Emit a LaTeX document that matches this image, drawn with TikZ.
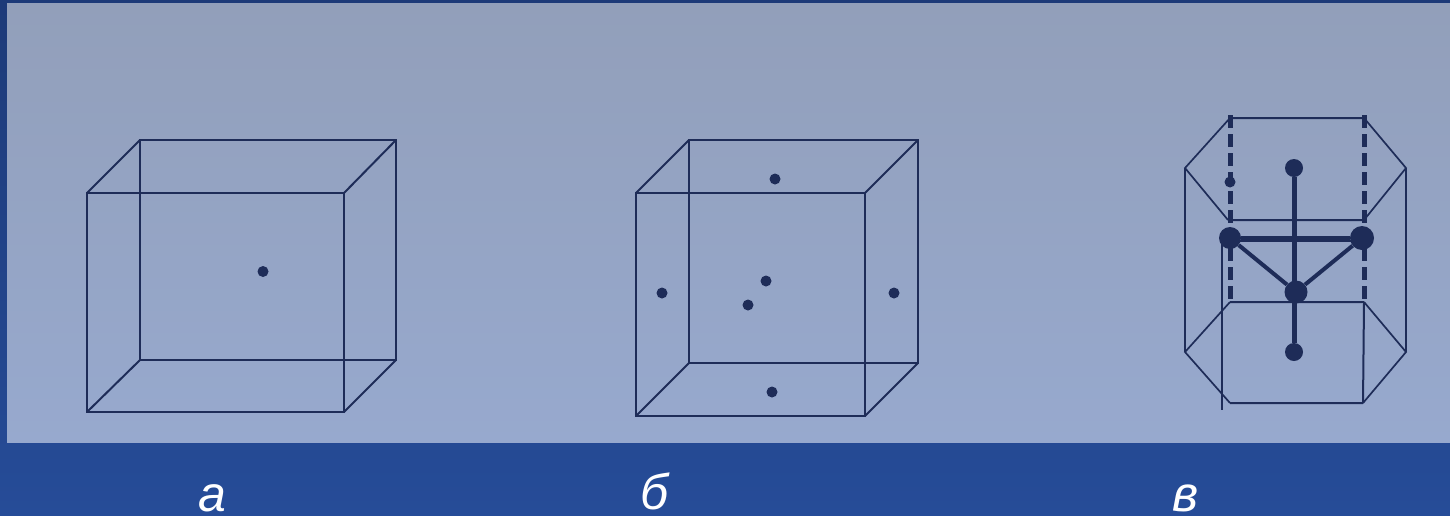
\documentclass[tikz,border=0pt]{standalone}
\usepackage{fontspec}
\setmainfont{Liberation Sans}
\definecolor{ink}{HTML}{1E2C58}
\definecolor{outertop}{HTML}{1D3A78}
\definecolor{outerbot}{HTML}{264C98}
\definecolor{paneltop}{HTML}{929FBA}
\definecolor{panelbot}{HTML}{97A9CE}
\tikzset{
  wire/.style={draw=ink,line width=2pt,line join=miter},
  thinwire/.style={draw=ink,line width=1.7pt},
  bond/.style={draw=ink,line width=5pt},
  dashwire/.style={draw=ink,line width=5pt,dash pattern=on 13pt off 6pt},
  atom/.style={circle,fill=ink,inner sep=0pt,minimum size=#1},
  atom/.default=11pt,
  caption/.style={text=white,inner sep=0pt,anchor=base,font=\fontsize{50}{50}\selectfont\itshape}
}
\begin{document}
\begin{tikzpicture}[x=1pt,y=-1pt]
\useasboundingbox (0,0) rectangle (1450,515);
\shade[top color=outertop,bottom color=outerbot] (0,0) rectangle (1450,515);
\shade[top color=paneltop,bottom color=panelbot] (7,3) rectangle (1450,442);
% --- a ---
\coordinate (a1) at (87,193); \coordinate (a2) at (344,193);
\coordinate (a3) at (344,412); \coordinate (a4) at (87,412);
\coordinate (a5) at (140,140); \coordinate (a6) at (396,140);
\coordinate (a7) at (396,360); \coordinate (a8) at (140,360);
\draw[wire] (a1) -- (a2) -- (a3) -- (a4) -- cycle;
\draw[wire] (a5) -- (a6) -- (a7) -- (a8) -- cycle;
\draw[wire] (a1) -- (a5) (a2) -- (a6) (a3) -- (a7) (a4) -- (a8);
\node[atom] (adot) at (263,271.5) {};
% --- b ---
\coordinate (b1) at (636,193); \coordinate (b2) at (865,193);
\coordinate (b3) at (865,416); \coordinate (b4) at (636,416);
\coordinate (b5) at (689,140); \coordinate (b6) at (918,140);
\coordinate (b7) at (918,363); \coordinate (b8) at (689,363);
\draw[wire] (b1) -- (b2) -- (b3) -- (b4) -- cycle;
\draw[wire] (b5) -- (b6) -- (b7) -- (b8) -- cycle;
\draw[wire] (b1) -- (b5) (b2) -- (b6) (b3) -- (b7) (b4) -- (b8);
\node[atom] (bd1) at (775,179) {};
\node[atom] (bd2) at (662,293) {};
\node[atom] (bd3) at (894,293) {};
\node[atom] (bd4) at (766,281) {};
\node[atom] (bd5) at (748,305) {};
\node[atom] (bd6) at (772,392) {};
% --- c ---
\coordinate (c1) at (1230,118); \coordinate (c2) at (1364,118);
\coordinate (c3) at (1406,168); \coordinate (c4) at (1364,220);
\coordinate (c5) at (1228,220); \coordinate (c6) at (1185,168);
\coordinate (c7) at (1230,302); \coordinate (c8) at (1364,302);
\coordinate (c9) at (1406,352); \coordinate (c10) at (1363,403);
\coordinate (c11) at (1230,403); \coordinate (c12) at (1185,352);
\coordinate (c13) at (1222,233); \coordinate (c14) at (1222,410);
\coordinate (c15) at (1364,241); \coordinate (c16) at (1222,241);
\coordinate (d1t) at (1230,115); \coordinate (d1b) at (1230,302);
\coordinate (d2t) at (1364,115); \coordinate (d2b) at (1364,302);
\draw[wire] (c1) -- (c2) (c4) -- (c5) (c7) -- (c8) (c11) -- (c10) (c8) -- (c10);
\draw[wire] (c6) -- (c12) (c3) -- (c9) (c13) -- (c14) (c16) -- (c15);
\draw[thinwire] (c1) -- (c6) -- (c5) (c2) -- (c3) -- (c4);
\draw[thinwire] (c7) -- (c12) -- (c11) (c8) -- (c9) -- (c10);
\draw[dashwire] (d1t) -- (d1b);
\draw[dashwire] (d2t) -- (d2b);
\node[atom=18pt] (ct) at (1294,168) {};
\node[atom=18pt] (cb) at (1294,352) {};
\node[atom=22pt] (cl) at (1230,238) {};
\node[atom=24pt] (cr) at (1362,238) {};
\node[atom=23pt] (cm) at (1296,292) {};
\node[atom=11pt] (cs) at (1230,182) {};
\draw[bond] (ct) -- (cb);
\draw[bond] (cl) -- (cr);
\draw[bond,line width=4pt] (cl) -- (cm) -- (cr);
% --- captions ---
\node[caption] (la) at (212,511) {а};
\node[caption] (lb) at (655,509) {б};
\node[caption] (lc) at (1186,511) {в};
\end{tikzpicture}
\end{document}
